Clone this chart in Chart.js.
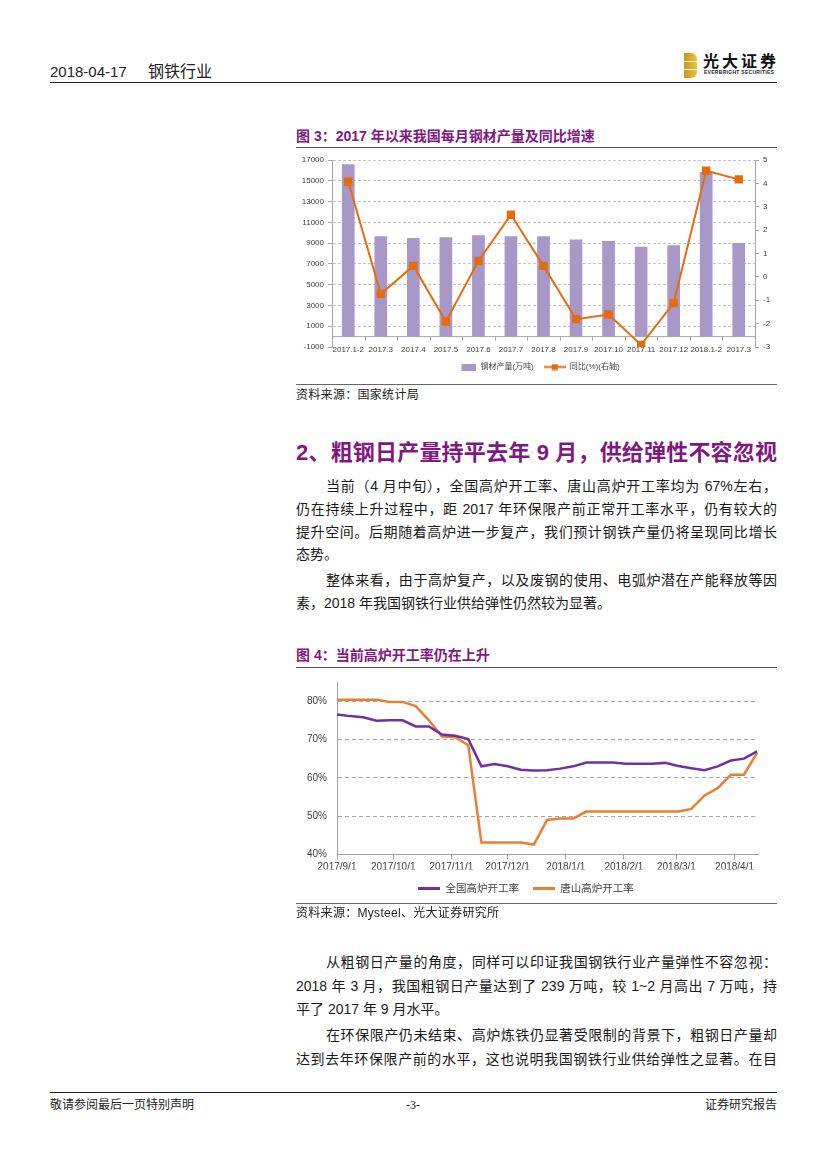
<!DOCTYPE html>
<html><head><meta charset="utf-8">
<script src="https://cdn.jsdelivr.net/npm/chart.js@4.4.1/dist/chart.umd.min.js"></script>
<style>
html,body{margin:0;padding:0;background:#fff;}
body{width:827px;height:1169px;position:relative;overflow:hidden;font-family:"Liberation Sans","Noto Sans CJK SC",sans-serif;color:#111;}
.a{position:absolute;white-space:nowrap;}
.rule{position:absolute;height:0;}
.ln{position:absolute;left:296px;width:481px;font-size:14px;line-height:20px;height:20px;text-align:justify;text-align-last:justify;color:#1a1a1a;}
.ln.ind{left:326px;width:451px;}
.ln.last{text-align-last:left;}
.ttl{position:absolute;left:296px;font-size:14px;font-weight:bold;color:#80197F;line-height:20px;white-space:nowrap;}
.src{position:absolute;left:296px;font-size:12px;line-height:16px;color:#222;letter-spacing:0.3px;white-space:nowrap;}
canvas{position:absolute;}
</style>
</head><body>

<!-- header -->
<div class="a" style="left:50px;top:62px;font-size:15px;line-height:20px;color:#222;">2018-04-17</div>
<div class="a" style="left:148px;top:62px;font-size:16px;line-height:20px;color:#222;">钢铁行业</div>
<div class="rule" style="left:50px;top:82px;width:727px;border-top:1.5px solid #222;"></div>
<div class="a" style="left:684px;top:53px;width:13px;height:25px;background:linear-gradient(90deg,#C9961A,#F0C53C);border-radius:0 6px 6px 0;"></div>
<div class="a" style="left:684px;top:61px;width:13px;height:1px;background:#fff;"></div>
<div class="a" style="left:684px;top:69px;width:13px;height:1px;background:#fff;"></div>
<div class="a" style="left:703px;top:50px;font-size:16px;font-weight:bold;line-height:20px;letter-spacing:3px;color:#111;font-family:'Noto Sans CJK SC';">光大证券</div>
<div class="a" style="left:704px;top:70px;font-size:8px;font-weight:bold;line-height:8px;color:#222;transform:scale(0.62);transform-origin:0 0;letter-spacing:0.5px;">EVERBRIGHT SECURITIES</div>

<!-- figure 3 -->
<div class="ttl" style="top:126px;">图 3：2017 年以来我国每月钢材产量及同比增速</div>
<div class="rule" style="left:296px;top:147px;width:481px;border-top:1.5px solid #555;"></div>
<canvas id="c1" width="486" height="231" style="left:294px;top:150px;width:486px;height:231px;"></canvas>
<div class="rule" style="left:296px;top:384px;width:481px;border-top:1.5px solid #666;"></div>
<div class="src" style="top:387px;">资料来源：国家统计局</div>

<!-- section heading -->
<div class="a" style="left:296px;top:439px;width:481px;font-size:22px;line-height:28px;font-weight:bold;color:#80197F;text-align:justify;text-align-last:justify;white-space:normal;">2、粗钢日产量持平去年 9 月，供给弹性不容忽视</div>

<div class="ln ind" style="top:476px;">当前（4 月中旬），全国高炉开工率、唐山高炉开工率均为 67%左右，</div>
<div class="ln" style="top:499px;">仍在持续上升过程中，距 2017 年环保限产前正常开工率水平，仍有较大的</div>
<div class="ln" style="top:522px;">提升空间。后期随着高炉进一步复产，我们预计钢铁产量仍将呈现同比增长</div>
<div class="ln last" style="top:544px;">态势。</div>

<div class="ln ind" style="top:570px;">整体来看，由于高炉复产，以及废钢的使用、电弧炉潜在产能释放等因</div>
<div class="ln last" style="top:593px;">素，2018 年我国钢铁行业供给弹性仍然较为显著。</div>

<!-- figure 4 -->
<div class="ttl" style="top:645px;">图 4：当前高炉开工率仍在上升</div>
<div class="rule" style="left:296px;top:667px;width:481px;border-top:1.5px solid #555;"></div>
<canvas id="c2" width="486" height="238" style="left:294px;top:666px;width:486px;height:238px;"></canvas>
<div class="rule" style="left:296px;top:903px;width:481px;border-top:1.5px solid #666;"></div>
<div class="src" style="top:905px;">资料来源：Mysteel、光大证券研究所</div>

<div class="ln ind" style="top:952px;">从粗钢日产量的角度，同样可以印证我国钢铁行业产量弹性不容忽视：</div>
<div class="ln" style="top:976px;">2018 年 3 月，我国粗钢日产量达到了 239 万吨，较 1~2 月高出 7 万吨，持</div>
<div class="ln last" style="top:999px;">平了 2017 年 9 月水平。</div>

<div class="ln ind" style="top:1025px;">在环保限产仍未结束、高炉炼铁仍显著受限制的背景下，粗钢日产量却</div>
<div class="ln" style="top:1049px;">达到去年环保限产前的水平，这也说明我国钢铁行业供给弹性之显著。在目</div>

<!-- footer -->
<div class="rule" style="left:50px;top:1092px;width:727px;border-top:1px solid #222;"></div>
<div class="a" style="left:50px;top:1097px;font-size:12px;line-height:16px;color:#222;">敬请参阅最后一页特别声明</div>
<div class="a" style="left:400px;top:1097px;width:26px;text-align:center;font-size:12px;line-height:16px;color:#222;font-family:'Liberation Serif',serif;">-3-</div>
<div class="a" style="left:677px;top:1097px;width:100px;text-align:right;font-size:12px;line-height:16px;color:#222;">证券研究报告</div>

<script>
// ===== Figure 3 data =====
const months1 = ['2017.1-2','2017.3','2017.4','2017.5','2017.6','2017.7','2017.8','2017.9','2017.10','2017.11','2017.12','2018.1-2','2017.3'];
const steelOutput = [16600, 9650, 9500, 9560, 9760, 9660, 9660, 9340, 9210, 8660, 8790, 15840, 9010];
const yoyGrowth = [4.07, -0.73, 0.47, -1.91, 0.68, 2.66, 0.47, -1.81, -1.61, -2.91, -1.12, 4.54, 4.17];
const seriesNames1 = ['钢材产量(万吨)', '同比(%)(右轴)'];

// ===== Figure 4 data =====
const weeks = ['2017/9/1','2017/9/8','2017/9/15','2017/9/22','2017/9/29','2017/10/6','2017/10/13','2017/10/20','2017/10/27',
  '2017/11/3','2017/11/10','2017/11/17','2017/11/24','2017/12/1','2017/12/8','2017/12/15','2017/12/22','2017/12/29',
  '2018/1/5','2018/1/12','2018/1/19','2018/1/26','2018/2/2','2018/2/9','2018/2/16','2018/2/23',
  '2018/3/2','2018/3/9','2018/3/16','2018/3/23','2018/3/30','2018/4/6','2018/4/13'];
const nationalRate = [76.5,76.1,75.8,74.9,75.0,75.0,73.4,73.4,71.3,71.0,70.1,63.0,63.6,63.0,62.1,61.9,62.0,62.4,63.0,64.0,
  64.0,64.0,63.7,63.7,63.7,63.9,63.1,62.5,62.0,63.0,64.5,65.0,66.9];
const tangshanRate = [80.4,80.4,80.4,80.4,79.8,79.8,78.7,75.0,70.8,70.6,68.5,43.1,43.1,43.1,43.1,42.6,49.0,49.4,49.4,
  51.2,51.2,51.2,51.2,51.2,51.2,51.2,51.2,51.9,55.4,57.3,60.8,60.8,66.5];
const monthTicks = ['2017/9/1','2017/10/1','2017/11/1','2017/12/1','2018/1/1','2018/2/1','2018/3/1','2018/4/1'];
const pctTicks = [40, 50, 60, 70, 80];
const seriesNames2 = ['全国高炉开工率', '唐山高炉开工率'];

// ===== styling =====
const BAR = '#A898C8', ORANGE1 = '#E46C0A', PURPLE = '#7030A0', ORANGE2 = '#ED7D31';
Chart.defaults.font.family = '"Liberation Sans","Noto Sans CJK SC",sans-serif';
Chart.defaults.color = '#404040';

function icon(w, h, draw) {
  const c = document.createElement('canvas');
  c.width = w; c.height = h;
  draw(c.getContext('2d'), w, h);
  return c;
}
const barIcon = icon(22, 7, (g, w, h) => { g.fillStyle = BAR; g.fillRect(7, 0, 15, h); });
const lineMarkIcon = icon(22, 7, (g, w, h) => {
  g.strokeStyle = ORANGE1; g.lineWidth = 2; g.beginPath(); g.moveTo(0, h / 2); g.lineTo(w, h / 2); g.stroke();
  g.fillStyle = ORANGE1; g.fillRect(w / 2 - 3, h / 2 - 3, 6, 6);
});
const lineIcon = (col) => icon(22, 3, (g, w, h) => { g.fillStyle = col; g.fillRect(0, 0, w, h); });

// zero line with category tick marks for figure 3
const zeroAxis = {
  id: 'zeroAxis',
  beforeDatasetsDraw(chart) {
    const { ctx, chartArea, scales: { x, y } } = chart;
    const y0 = y.getPixelForValue(0);
    ctx.save();
    ctx.strokeStyle = '#A6A6A6'; ctx.lineWidth = 1;
    ctx.beginPath();
    ctx.moveTo(chartArea.left, y0); ctx.lineTo(chartArea.right, y0);
    for (let i = 0; i <= months1.length; i++) {
      const px = Math.round(x.getPixelForValue(i - 0.5)) + 0.5;
      ctx.moveTo(px, y0); ctx.lineTo(px, y0 + 4);
    }
    ctx.stroke();
    ctx.restore();
  }
};

new Chart(document.getElementById('c1'), {
  data: {
    labels: months1,
    datasets: [
      { type: 'bar', label: seriesNames1[0], data: steelOutput, yAxisID: 'y', backgroundColor: BAR,
        barPercentage: 0.39, categoryPercentage: 1, order: 2 },
      { type: 'line', label: seriesNames1[1], data: yoyGrowth, yAxisID: 'y1', borderColor: ORANGE1, backgroundColor: ORANGE1,
        borderWidth: 2, pointStyle: 'rect', pointRadius: 4.5, pointHoverRadius: 4.5, tension: 0, order: 1 }
    ]
  },
  options: {
    responsive: false, animation: false,
    layout: { padding: { top: 10, left: 0, right: 0, bottom: 0 } },
    plugins: {
      tooltip: { enabled: false },
      legend: {
        position: 'bottom',
        labels: {
          usePointStyle: true, pointStyleWidth: 22, padding: 10, font: { size: 8 }, color: '#404040',
          generateLabels: (chart) => {
            const items = Chart.defaults.plugins.legend.labels.generateLabels(chart);
            items.sort((a, b) => a.datasetIndex - b.datasetIndex);
            items.forEach(it => { it.pointStyle = it.datasetIndex === 0 ? barIcon : lineMarkIcon; });
            return items;
          }
        }
      }
    },
    scales: {
      x: {
        grid: { display: false, drawTicks: false }, border: { display: false },
        ticks: { autoSkip: false, maxRotation: 0, minRotation: 0, padding: -2, font: { size: 8 }, color: '#404040' },
        afterFit: (s) => { s.height = 6; }
      },
      y: {
        position: 'left', min: -1000, max: 17000,
        ticks: { stepSize: 2000, font: { size: 8 }, color: '#404040', padding: 4, callback: (v) => String(v) },
        grid: { color: (c) => (c.tick && c.tick.value === -1000) ? 'rgba(0,0,0,0)' : '#C4C4C4',
                tickColor: '#A6A6A6', tickLength: 4, tickBorderDash: [] },
        border: { display: true, color: '#A6A6A6', dash: [3, 2] },
        afterFit: (s) => { s.width = 38; }
      },
      y1: {
        position: 'right', min: -3, max: 5,
        ticks: { stepSize: 1, font: { size: 8 }, color: '#404040', padding: 4 },
        grid: { drawOnChartArea: false, color: '#A6A6A6', tickLength: 4 },
        border: { display: true, color: '#A6A6A6' },
        afterFit: (s) => { s.width = 25; }
      }
    }
  },
  plugins: [zeroAxis]
});

// ===== Figure 4 =====
const dayNum = (s) => { const [y, m, d] = s.split('/').map(Number); return Date.UTC(y, m - 1, d) / 86400000; };
const fmtDay = (v) => { const d = new Date(v * 86400000); return d.getUTCFullYear() + '/' + (d.getUTCMonth() + 1) + '/' + d.getUTCDate(); };
const pts = (vals) => weeks.map((w, i) => ({ x: dayNum(w), y: vals[i] }));

new Chart(document.getElementById('c2'), {
  type: 'line',
  data: {
    datasets: [
      { label: seriesNames2[0], data: pts(nationalRate), borderColor: PURPLE, backgroundColor: PURPLE, borderWidth: 2.5, pointRadius: 0, tension: 0 },
      { label: seriesNames2[1], data: pts(tangshanRate), borderColor: ORANGE2, backgroundColor: ORANGE2, borderWidth: 2.5, pointRadius: 0, tension: 0 }
    ]
  },
  options: {
    responsive: false, animation: false,
    layout: { padding: { top: 0, left: 0, right: 22, bottom: 0 } },
    plugins: {
      tooltip: { enabled: false },
      legend: {
        position: 'bottom',
        labels: {
          usePointStyle: true, pointStyleWidth: 22, padding: 14, font: { size: 10.5 }, color: '#404040',
          generateLabels: (chart) => {
            const items = Chart.defaults.plugins.legend.labels.generateLabels(chart);
            items.forEach(it => { it.pointStyle = lineIcon(it.datasetIndex === 0 ? PURPLE : ORANGE2); });
            return items;
          }
        }
      }
    },
    scales: {
      x: {
        type: 'linear',
        min: dayNum(weeks[0]), max: dayNum(weeks[weeks.length - 1]) + 0.5,
        afterBuildTicks: (s) => { s.ticks = monthTicks.map(t => ({ value: dayNum(t) })); },
        ticks: { callback: (v) => fmtDay(v), autoSkip: false, maxRotation: 0, minRotation: 0, font: { size: 10 }, color: '#404040', padding: 2 },
        grid: { drawOnChartArea: false, color: '#A0A0A0', tickLength: 5 },
        border: { display: true, color: '#A0A0A0' },
        afterFit: (s) => { s.height = 15; }
      },
      y: {
        min: 40, max: 85,
        afterBuildTicks: (s) => { s.ticks = pctTicks.map(v => ({ value: v })); },
        ticks: { callback: (v) => v + '%', font: { size: 10 }, color: '#404040', padding: 10 },
        grid: { color: (c) => (c.tick && c.tick.value === 40) ? 'rgba(0,0,0,0)' : '#A6A6A6', drawTicks: false },
        border: { display: true, color: '#A0A0A0', dash: [4, 3] },
        afterFit: (s) => { s.width = 43; }
      }
    }
  }
});
</script>
</body></html>
